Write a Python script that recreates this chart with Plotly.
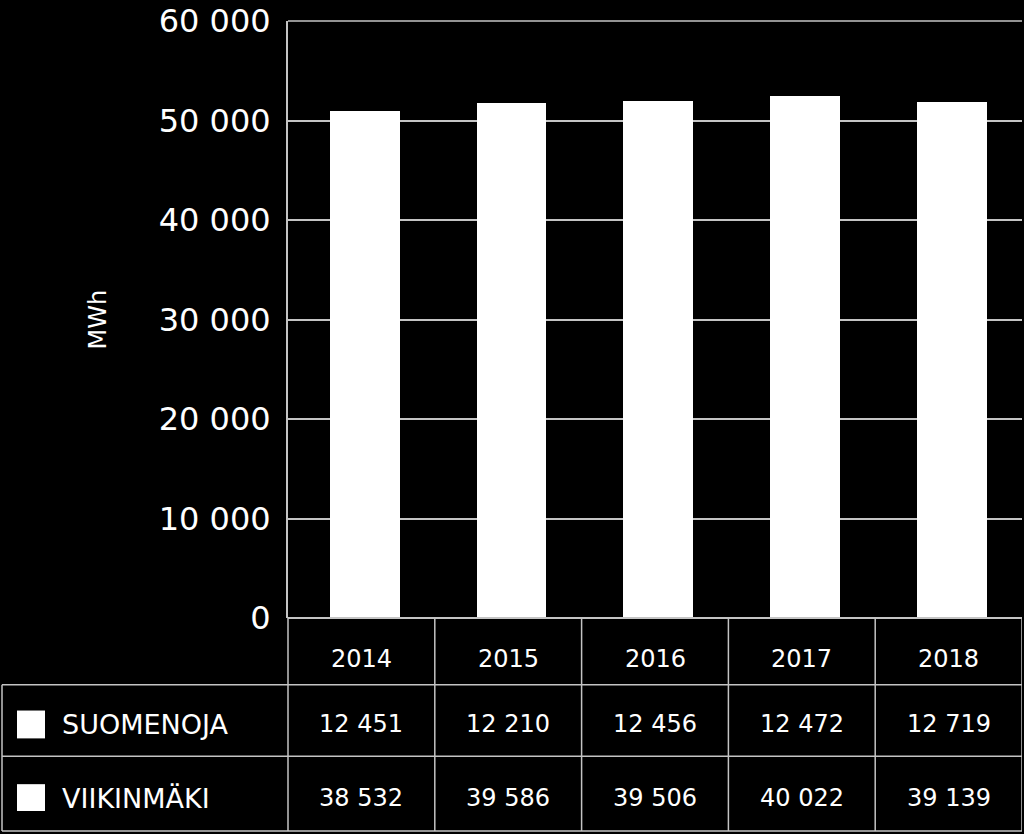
import plotly.graph_objects as go

years = ["2014", "2015", "2016", "2017", "2018"]
suomenoja = [12451, 12210, 12456, 12472, 12719]
viikinmaki = [38532, 39586, 39506, 40022, 39139]
series_names = ["SUOMENOJA", "VIIKINMÄKI"]
y_ticks = [0, 10000, 20000, 30000, 40000, 50000, 60000]

W, H = 1024, 834
L, R, T, B = 288, 1022, 18, 618
pw, ph = R - L, B - T

def px(xp):
    return (xp - L) / pw

def py(yp):
    return (B - yp) / ph

def fmt(v):
    return f"{v:,}".replace(",", " ")

FONT = "DejaVu Sans"
fig = go.Figure()
xs = list(range(len(years)))
fig.add_trace(go.Bar(x=xs, y=viikinmaki, name=series_names[1], marker=dict(color="white", line=dict(width=0)), width=0.475, offset=-0.215))
fig.add_trace(go.Bar(x=xs, y=suomenoja, name=series_names[0], marker=dict(color="white", line=dict(width=0)), width=0.475, offset=-0.215))

shapes = []
line_col = "#c4c4c4"
# top gridline (60 000)
shapes.append(dict(type="line", xref="paper", yref="paper", x0=0, x1=1, y0=1, y1=1, line=dict(color=line_col, width=1.5)))
# horizontal table lines
for yp in [685, 757, 832]:
    shapes.append(dict(type="line", xref="paper", yref="paper", x0=px(2), x1=1, y0=py(yp), y1=py(yp), line=dict(color=line_col, width=1.5)))
shapes.append(dict(type="line", xref="paper", yref="paper", x0=0, x1=1, y0=0, y1=0, line=dict(color=line_col, width=2)))
# vertical lines
for xv in [0.5, 1.5, 2.5, 3.5, 4.5]:
    shapes.append(dict(type="line", xref="x", yref="paper", x0=xv, x1=xv, y0=0, y1=py(832), line=dict(color=line_col, width=1.5)))
shapes.append(dict(type="line", xref="paper", yref="paper", x0=0, x1=0, y0=0, y1=py(832), line=dict(color=line_col, width=1.5)))
shapes.append(dict(type="line", xref="paper", yref="paper", x0=px(2), x1=px(2), y0=py(685), y1=py(832), line=dict(color=line_col, width=1.5)))
# legend squares
for (y0, y1) in [(711, 739), (785, 812)]:
    shapes.append(dict(type="rect", xref="paper", yref="paper", x0=px(17), x1=px(45), y0=py(y1), y1=py(y0), fillcolor="white", line=dict(width=0)))

ann = []
tf = dict(family=FONT, size=24, color="white")
for i, yr in enumerate(years):
    ann.append(dict(x=i, y=py(659), xref="x", yref="paper", yanchor="middle", text=yr, showarrow=False, font=tf))
    ann.append(dict(x=i, y=py(725), xref="x", yref="paper", yanchor="middle", text=fmt(suomenoja[i]), showarrow=False, font=tf))
    ann.append(dict(x=i, y=py(799), xref="x", yref="paper", yanchor="middle", text=fmt(viikinmaki[i]), showarrow=False, font=tf))
lf = dict(family=FONT, size=27, color="white")
ann.append(dict(x=px(60), y=py(725), xref="paper", yref="paper", yanchor="middle", text=series_names[0], showarrow=False, xanchor="left", font=lf))
ann.append(dict(x=px(60), y=py(799), xref="paper", yref="paper", yanchor="middle", text=series_names[1], showarrow=False, xanchor="left", font=lf))
ann.append(dict(x=px(97), y=py(318), xref="paper", yref="paper", xanchor="center", yanchor="middle", text="MWh", showarrow=False, textangle=-90, font=dict(family=FONT, size=24, color="white")))

fig.update_layout(
    width=W, height=H,
    margin=dict(l=L, r=W - R, t=T, b=H - B, pad=0),
    paper_bgcolor="black", plot_bgcolor="black",
    barmode="stack", showlegend=False,
    xaxis=dict(range=[-0.5, 4.5], showticklabels=False, showgrid=False, zeroline=False, fixedrange=True),
    yaxis=dict(range=[0, 60000], tickvals=y_ticks, ticktext=[fmt(v) for v in y_ticks],
               showgrid=True, gridcolor=line_col, gridwidth=1.5, zeroline=False,
               showline=True, linecolor=line_col, linewidth=2,
               ticks="", ticklabelstandoff=9, ticklabeloverflow="allow",
               tickfont=dict(family=FONT, size=32, color="white")),
    shapes=shapes, annotations=ann,
)
fig.write_html("out.html")
